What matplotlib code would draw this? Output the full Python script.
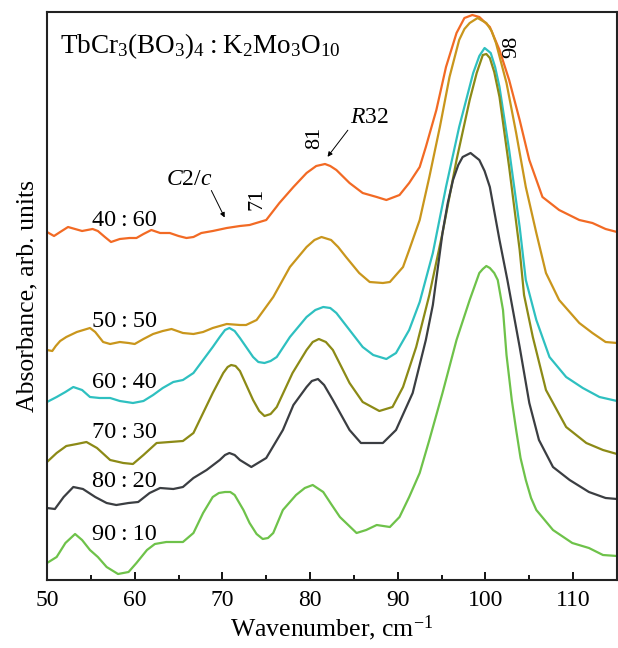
import matplotlib
matplotlib.use("Agg")
import matplotlib.pyplot as plt
from matplotlib.ticker import MultipleLocator

plt.rcParams['font.family'] = ['Liberation Serif', 'DejaVu Serif']
plt.rcParams['mathtext.fontset'] = 'custom'
plt.rcParams['mathtext.rm'] = 'Liberation Serif'
plt.rcParams['mathtext.it'] = 'Liberation Serif:italic'

# Spectra (wavenumber in cm^-1, absorbance in arb. units)
x_40_60 = [50.0, 50.8, 51.5, 52.4, 53.2, 54.0, 55.2, 55.8, 56.6, 57.3, 58.3, 59.4, 60.2, 61.0,
           61.9, 62.9, 64.0, 65.0, 65.9, 66.7, 67.6, 68.9, 70.5, 72.0, 73.1, 75.0, 76.5, 78.1,
           79.6, 80.7, 81.7, 82.3, 83.0, 84.5, 86.0, 87.6, 88.7, 90.2, 91.3, 92.5, 93.2, 94.4,
           95.5, 96.7, 97.6, 98.5, 99.3, 100.5, 101.6, 102.7, 103.9, 105.0, 106.5, 108.4,
           110.7, 112.2, 113.7, 115.0]
y_40_60 = [3.48, 3.44, 3.48, 3.53, 3.51, 3.49, 3.51, 3.49, 3.43, 3.38, 3.41, 3.42, 3.42, 3.46,
           3.50, 3.47, 3.47, 3.44, 3.42, 3.43, 3.47, 3.49, 3.52, 3.54, 3.55, 3.60, 3.77, 3.93,
           4.07, 4.14, 4.16, 4.14, 4.10, 3.97, 3.87, 3.83, 3.80, 3.85, 3.97, 4.13, 4.33, 4.70,
           5.13, 5.47, 5.62, 5.65, 5.63, 5.53, 5.30, 5.00, 4.60, 4.20, 3.83, 3.70, 3.60, 3.57,
           3.51, 3.48]

x_50_50 = [50.0, 50.6, 51.0, 51.5, 52.2, 53.4, 54.9, 55.5, 56.4, 57.2, 58.3, 59.3, 60.0, 61.0,
           62.1, 63.2, 64.2, 65.5, 66.7, 67.8, 68.9, 70.5, 72.0, 72.7, 73.9, 75.8, 77.7, 79.6,
           80.5, 81.3, 82.4, 83.2, 84.1, 85.6, 86.8, 88.3, 89.1, 90.6, 91.3, 92.5, 93.6, 94.8,
           95.9, 97.0, 97.6, 98.2, 99.1, 100.1, 100.7, 101.2, 102.4, 103.5, 104.6, 105.8,
           106.9, 108.4, 110.7, 112.2, 113.7, 115.0]
y_50_50 = [2.30, 2.29, 2.34, 2.39, 2.43, 2.48, 2.52, 2.48, 2.38, 2.36, 2.38, 2.37, 2.36, 2.41,
           2.46, 2.49, 2.51, 2.47, 2.46, 2.48, 2.52, 2.56, 2.55, 2.55, 2.60, 2.83, 3.13, 3.33,
           3.40, 3.43, 3.40, 3.33, 3.23, 3.07, 2.98, 2.97, 2.98, 3.13, 3.30, 3.60, 4.03, 4.53,
           5.03, 5.40, 5.51, 5.57, 5.62, 5.57, 5.49, 5.37, 4.97, 4.47, 3.93, 3.47, 3.07, 2.80,
           2.57, 2.47, 2.38, 2.37]

x_60_40 = [50.0, 51.1, 52.1, 53.0, 54.0, 54.9, 56.0, 57.2, 58.3, 59.8, 61.0, 62.1, 63.2, 64.4,
           65.5, 66.7, 67.8, 68.9, 69.7, 70.3, 70.8, 71.4, 72.0, 73.5, 74.1, 74.8, 75.5, 76.2,
           77.7, 79.6, 80.6, 81.5, 82.3, 83.0, 84.5, 86.0, 87.2, 88.7, 89.8, 91.3, 92.5, 94.0,
           95.5, 97.0, 98.6, 99.3, 99.9, 100.6, 101.1, 101.6, 102.7, 103.9, 104.6, 105.8, 107.3,
           109.2, 111.1, 113.0, 115.0]
y_60_40 = [1.78, 1.83, 1.88, 1.93, 1.90, 1.83, 1.82, 1.82, 1.79, 1.77, 1.79, 1.85, 1.92, 1.98,
           2.00, 2.07, 2.20, 2.33, 2.43, 2.50, 2.52, 2.49, 2.42, 2.23, 2.18, 2.17, 2.19, 2.23,
           2.43, 2.63, 2.70, 2.73, 2.72, 2.67, 2.50, 2.33, 2.25, 2.21, 2.27, 2.50, 2.78, 3.27,
           3.93, 4.53, 5.07, 5.24, 5.32, 5.27, 5.13, 4.93, 4.30, 3.53, 3.00, 2.60, 2.23, 2.03,
           1.92, 1.83, 1.79]

x_70_30 = [50.0, 51.1, 52.2, 53.4, 54.5, 55.7, 57.2, 58.7, 59.8, 61.0, 62.5, 64.0, 65.5, 66.7,
           67.8, 68.9, 70.1, 70.6, 71.0, 71.5, 72.0, 73.5, 74.2, 74.8, 75.5, 76.2, 78.0, 79.6,
           80.3, 81.0, 81.8, 82.6, 84.5, 86.0, 87.9, 89.4, 90.6, 92.1, 93.6, 95.1, 96.7, 98.2,
           99.0, 99.7, 100.1, 100.5, 101.0, 101.6, 102.7, 103.9, 104.4, 105.4, 106.9, 109.2,
           111.5, 113.4, 115.0]
y_70_30 = [1.18, 1.27, 1.34, 1.36, 1.38, 1.32, 1.20, 1.17, 1.16, 1.25, 1.37, 1.38, 1.39, 1.47,
           1.67, 1.87, 2.07, 2.13, 2.15, 2.14, 2.09, 1.80, 1.69, 1.64, 1.66, 1.73, 2.07, 2.30,
           2.38, 2.41, 2.38, 2.30, 1.97, 1.78, 1.69, 1.73, 1.93, 2.33, 2.85, 3.47, 4.20, 4.80,
           5.07, 5.25, 5.26, 5.22, 5.08, 4.83, 4.13, 3.30, 2.85, 2.43, 1.90, 1.53, 1.37, 1.30,
           1.26]

x_80_20 = [50.0, 50.9, 51.9, 53.0, 54.1, 55.5, 56.8, 57.9, 59.3, 60.4, 61.7, 62.9, 64.4, 65.5,
           66.7, 68.2, 69.7, 70.3, 70.8, 71.4, 72.0, 73.3, 75.0, 76.9, 78.1, 79.6, 80.2, 80.9,
           81.6, 82.6, 84.5, 85.8, 88.3, 89.8, 91.7, 93.2, 94.0, 95.1, 95.7, 96.3, 96.9, 97.4,
           98.3, 99.3, 99.9, 100.5, 101.6, 102.5, 103.9, 105.0, 106.1, 107.7, 109.6, 111.8,
           113.7, 115.0]
y_80_20 = [0.72, 0.71, 0.83, 0.93, 0.91, 0.83, 0.77, 0.75, 0.77, 0.78, 0.87, 0.92, 0.91, 0.93,
           1.02, 1.10, 1.20, 1.25, 1.27, 1.25, 1.20, 1.13, 1.22, 1.50, 1.75, 1.93, 1.99, 2.01,
           1.95, 1.80, 1.50, 1.37, 1.37, 1.50, 1.87, 2.40, 2.75, 3.47, 3.77, 4.00, 4.15, 4.23,
           4.27, 4.20, 4.09, 3.93, 3.40, 3.00, 2.33, 1.77, 1.40, 1.13, 1.00, 0.88, 0.82, 0.81]

x_90_10 = [50.0, 51.1, 52.1, 53.2, 54.0, 54.9, 55.8, 56.8, 58.1, 59.3, 60.2, 61.4, 62.3, 63.6,
           65.5, 66.7, 67.8, 68.9, 69.6, 70.3, 70.9, 71.4, 72.4, 73.1, 73.9, 74.6, 75.2, 75.8,
           76.9, 78.4, 79.4, 80.3, 81.5, 82.4, 83.4, 85.3, 86.4, 87.6, 89.1, 90.2, 91.3, 92.5,
           93.6, 95.1, 96.7, 98.2, 99.3, 99.7, 100.1, 100.5, 101.0, 101.4, 101.6, 102.0, 102.4,
           103.0, 103.5, 104.0, 104.6, 105.2, 105.8, 107.7, 109.9, 111.8, 113.4, 115.0]
y_90_10 = [0.17, 0.23, 0.37, 0.46, 0.40, 0.30, 0.23, 0.13, 0.06, 0.08, 0.17, 0.30, 0.36, 0.38,
           0.38, 0.47, 0.67, 0.83, 0.87, 0.88, 0.88, 0.85, 0.70, 0.57, 0.46, 0.41, 0.42, 0.47,
           0.70, 0.85, 0.92, 0.95, 0.88, 0.76, 0.63, 0.47, 0.50, 0.55, 0.53, 0.63, 0.83, 1.07,
           1.40, 1.87, 2.40, 2.80, 3.07, 3.11, 3.14, 3.12, 3.07, 3.00, 2.90, 2.70, 2.25, 1.80,
           1.50, 1.22, 1.00, 0.82, 0.70, 0.50, 0.37, 0.32, 0.25, 0.24]

ratios = ['40\u2009:\u200960', '50\u2009:\u200950', '60\u2009:\u200940',
          '70\u2009:\u200930', '80\u2009:\u200920', '90\u2009:\u200910']
label_y = [3.54, 2.53, 1.92, 1.42, 0.93, 0.40]
colors = ['#f26a24', '#c9961c', '#2ec0c0', '#8c8a16', '#3b3e42', '#6ec24a']

series = [(x_40_60, y_40_60), (x_50_50, y_50_50), (x_60_40, y_60_40),
          (x_70_30, y_70_30), (x_80_20, y_80_20), (x_90_10, y_90_10)]

fig = plt.figure(figsize=(6.18, 6.48), dpi=100)
ax = fig.add_axes([47 / 618, 68 / 648, 570 / 618, 568 / 648])

for (xs, ys), c, lab, ly in zip(series, colors, ratios, label_y):
    ax.plot(xs, ys, color=c, lw=1.6, solid_joinstyle='round')
    ax.text(55.1, ly, lab, fontsize=17.5, ha='left', va='baseline')

# annotations
ax.text(51.5, 5.27, 'TbCr$_3$(BO$_3$)$_4$\u2009:\u2009K$_2$Mo$_3$O$_{10}$', fontsize=19.5,
        ha='left', va='baseline')
ax.text(63.6, 3.95, '$C$2/$c$', fontsize=17, ha='left', va='baseline')
ax.annotate('', xy=(70.4, 3.60), xytext=(68.6, 3.92),
            arrowprops=dict(arrowstyle='-|>', color='black', lw=0.7, mutation_scale=7))
ax.text(86.8, 4.57, '$R$32', fontsize=17, ha='center', va='baseline')
ax.annotate('', xy=(81.8, 4.21), xytext=(84.5, 4.52),
            arrowprops=dict(arrowstyle='-|>', color='black', lw=0.7, mutation_scale=7))
ax.text(73.9, 3.81, '71', fontsize=16, rotation=90, ha='center', va='center')
ax.text(80.5, 4.42, '81', fontsize=16, rotation=90, ha='center', va='center')
ax.text(103.0, 5.33, '98', fontsize=16, rotation=90, ha='center', va='center')

ax.set_xlim(50, 115)
ax.set_ylim(0, 5.68)
ax.xaxis.set_major_locator(MultipleLocator(10))
ax.xaxis.set_minor_locator(MultipleLocator(5))
ax.set_yticks([])
ax.tick_params(axis='x', which='both', direction='in', top=False, labelsize=17, pad=7)
ax.tick_params(axis='x', which='major', length=6, width=1.3)
ax.tick_params(axis='x', which='minor', length=3.8, width=1.3)
for s in ax.spines.values():
    s.set_linewidth(1.5)
    s.set_color('#222222')

ax.set_xlabel('Wavenumber, cm$^{-1}$', fontsize=18.5, labelpad=2)
ax.set_ylabel('Absorbance, arb. units', fontsize=18.5, labelpad=6)

fig.savefig('out.png', dpi=100)
